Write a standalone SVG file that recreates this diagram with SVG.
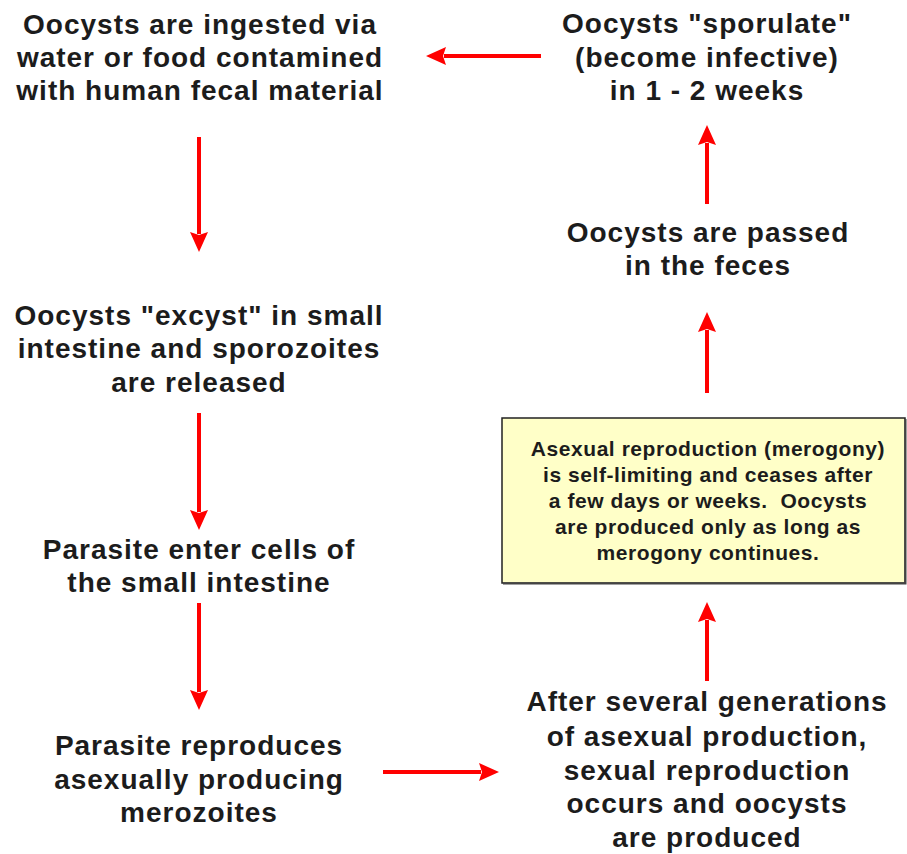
<svg xmlns="http://www.w3.org/2000/svg" width="907" height="854" viewBox="0 0 907 854">
<style>
.t{font-family:"Liberation Sans",Arial,Helvetica,sans-serif;font-weight:bold;font-size:28px;letter-spacing:1px;fill:#1c1c1c;text-anchor:middle}
.b{font-family:"Liberation Sans",Arial,Helvetica,sans-serif;font-weight:bold;font-size:21px;letter-spacing:0.55px;fill:#1c1c1c;text-anchor:middle;white-space:pre}
.a{stroke:#ff0000;stroke-width:4;fill:none;marker-end:url(#ah)}
</style>
<defs>
<marker id="ah" viewBox="0 0 20 18" refX="2" refY="9" markerWidth="20" markerHeight="18" markerUnits="userSpaceOnUse" orient="auto">
<path d="M0,0 L20,9 L0,18 L3,9 z" fill="#ff0000"/>
</marker>
</defs>
<rect width="907" height="854" fill="#ffffff"/>
<g id="connectors">
<line class="a" x1="541" y1="56" x2="444" y2="56"/>
<line class="a" x1="199" y1="137" x2="199" y2="234"/>
<line class="a" x1="199" y1="413" x2="199" y2="512"/>
<line class="a" x1="199" y1="603" x2="199" y2="692"/>
<line class="a" x1="383" y1="772" x2="481" y2="772"/>
<line class="a" x1="707" y1="681" x2="707" y2="620"/>
<line class="a" x1="707" y1="393" x2="707" y2="330"/>
<line class="a" x1="707" y1="204" x2="707" y2="143"/>
</g>
<g id="ingested">
<text class="t" x="200" y="34">Oocysts are ingested via</text>
<text class="t" x="200" y="67">water or food contamined</text>
<text class="t" x="200" y="100">with human fecal material</text>
</g>
<g id="sporulate">
<text class="t" x="707" y="33">Oocysts "sporulate"</text>
<text class="t" x="707" y="67">(become infective)</text>
<text class="t" x="707" y="100">in 1 - 2 weeks</text>
</g>
<g id="passed">
<text class="t" x="708" y="242">Oocysts are passed</text>
<text class="t" x="708" y="275">in the feces</text>
</g>
<g id="excyst">
<text class="t" x="199" y="325">Oocysts "excyst" in small</text>
<text class="t" x="199" y="358">intestine and sporozoites</text>
<text class="t" x="199" y="392">are released</text>
</g>
<g id="enter">
<text class="t" x="199" y="559">Parasite enter cells of</text>
<text class="t" x="199" y="592">the small intestine</text>
</g>
<g id="reproduces">
<text class="t" x="199" y="755">Parasite reproduces</text>
<text class="t" x="199" y="789">asexually producing</text>
<text class="t" x="199" y="822">merozoites</text>
</g>
<g id="sexual">
<text class="t" x="707" y="711">After several generations</text>
<text class="t" x="707" y="746">of asexual production,</text>
<text class="t" x="707" y="780">sexual reproduction</text>
<text class="t" x="707" y="813">occurs and oocysts</text>
<text class="t" x="707" y="847">are produced</text>
</g>
<g id="merogony">
<rect x="502" y="418" width="403" height="165" fill="#ffffc8" stroke="#222222" stroke-width="1.5"/>
<path d="M503,583.5 H905.5 V419" fill="none" stroke="#444444" stroke-width="2"/>
<text class="b" x="708" y="456">Asexual reproduction (merogony)</text>
<text class="b" x="708" y="482">is self-limiting and ceases after</text>
<text class="b" x="708" y="508" xml:space="preserve">a few days or weeks.  Oocysts</text>
<text class="b" x="708" y="534">are produced only as long as</text>
<text class="b" x="708" y="560">merogony continues.</text>
</g>
</svg>
